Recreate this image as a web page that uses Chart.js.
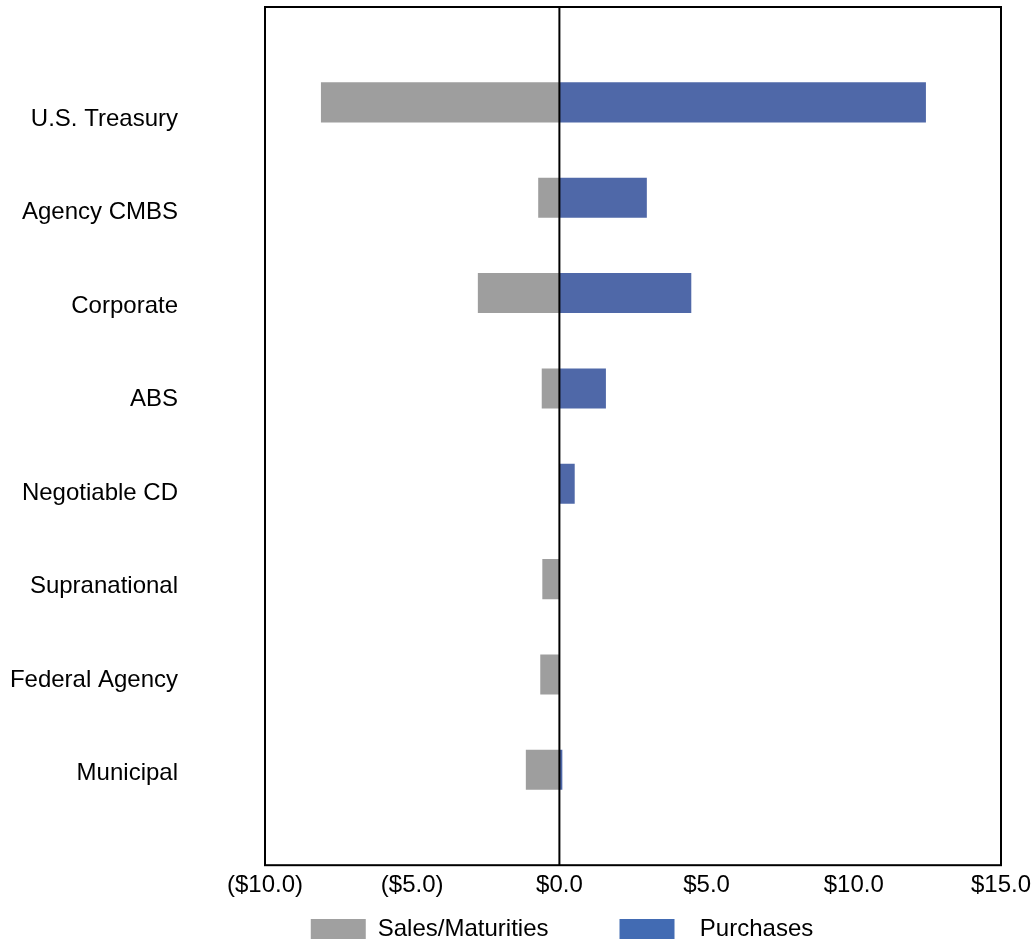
<!DOCTYPE html>
<html>
<head>
<meta charset="utf-8">
<title>Sales/Maturities vs Purchases by Sector</title>
<script src="https://cdn.jsdelivr.net/npm/chart.js@4.4.1/dist/chart.umd.min.js"></script>
<style>
    html, body { margin: 0; padding: 0; background: #fff; overflow: hidden; }
    #wrap { width: 1034px; height: 939px; }
</style>
</head>
<body>
<div id="wrap"><canvas id="sectorChart" width="1034" height="939" style="width:1034px;height:939px"></canvas></div>
<script>
const categories = ['U.S. Treasury', 'Agency CMBS', 'Corporate', 'ABS', 'Negotiable CD', 'Supranational', 'Federal Agency', 'Municipal'];
const salesMaturities = [-8.1, -0.72, -2.77, -0.6, 0, -0.58, -0.65, -1.14];
const purchases = [12.45, 2.97, 4.48, 1.58, 0.52, 0, 0, 0.1];
const xTickValues = [-10, -5, 0, 5, 10, 15];
const seriesNames = ['Sales/Maturities', 'Purchases'];

const barColors = ['#9e9e9e', '#4f68a8'];
const legendColors = ['#a0a0a0', '#426bb3'];
const FONT = "'Liberation Sans', Arial, sans-serif";
const FONT_SIZE = 24;

// empty slot above and below the sectors, like the original spacing
const padded = arr => [null, ...arr, null];

function money(v) {
    return v < 0 ? '($' + Math.abs(v).toFixed(1) + ')' : '$' + v.toFixed(1);
}

// box round the plot plus the zero line, drawn over the bars
const framePlugin = {
    id: 'frame',
    afterLayout(chart) {
        // the legend is centred under the bars rather than under the whole canvas
        chart.legend.left += 123;
    },
    afterDatasetsDraw(chart) {
        const {ctx, chartArea: a, scales: {x}} = chart;
        const zero = x.getPixelForValue(0);
        ctx.save();
        ctx.strokeStyle = '#000';
        ctx.lineWidth = 2;
        ctx.strokeRect(a.left, a.top, a.right - a.left, a.bottom - a.top);
        ctx.beginPath();
        ctx.moveTo(zero, a.top);
        ctx.lineTo(zero, a.bottom);
        ctx.stroke();
        ctx.restore();
    }
};

Chart.defaults.font.family = FONT;
Chart.defaults.color = '#000';

new Chart(document.getElementById('sectorChart'), {
    type: 'bar',
    data: {
        labels: padded(categories).map(c => c || ''),
        datasets: [
            {label: seriesNames[0], data: padded(salesMaturities), backgroundColor: barColors[0]},
            {label: seriesNames[1], data: padded(purchases), backgroundColor: barColors[1]}
        ]
    },
    options: {
        indexAxis: 'y',
        responsive: false,
        animation: false,
        categoryPercentage: 1,
        barPercentage: 0.42,
        layout: {padding: {top: 7, right: 33, bottom: -12, left: 0}},
        scales: {
            x: {
                stacked: true,
                min: -10,
                max: 15,
                grid: {display: false, drawTicks: false},
                border: {display: false},
                afterBuildTicks: axis => { axis.ticks = xTickValues.map(v => ({value: v})); },
                afterFit: axis => { axis.paddingLeft = 0; axis.paddingRight = 0; },
                ticks: {
                    padding: 6,
                    autoSkip: false,
                    maxRotation: 0,
                    font: {size: FONT_SIZE, lineHeight: 1.2},
                    callback: v => money(v)
                }
            },
            y: {
                stacked: true,
                display: false,
                offset: false
            },
            // sector names sit on their own axis: in the original they drift a little from the bar centres
            yl: {
                type: 'linear',
                position: 'left',
                reverse: true,
                offset: false,
                min: -0.2,
                max: 8.98,
                grid: {display: false, drawTicks: false},
                border: {display: false},
                afterBuildTicks: axis => { axis.ticks = categories.map((c, i) => ({value: i + 1})); },
                afterFit: axis => {
                    axis.width = 265;
                    axis.paddingTop = 0;
                    axis.paddingBottom = 0;
                },
                ticks: {
                    padding: 87,
                    autoSkip: false,
                    font: {size: FONT_SIZE},
                    callback: v => categories[v - 1]
                }
            }
        },
        plugins: {
            tooltip: {enabled: false},
            legend: {
                position: 'bottom',
                labels: {
                    boxWidth: 55,
                    boxHeight: 20,
                    padding: 11,
                    font: {size: FONT_SIZE},
                    color: '#000',
                    generateLabels: chart => chart.data.datasets.map((ds, i) => ({
                        // spaces keep the gap between the two entries as in the original
                        text: i === 0 ? ds.label + ' '.repeat(9) : '  ' + ds.label,
                        fillStyle: legendColors[i],
                        strokeStyle: legendColors[i],
                        lineWidth: 0,
                        hidden: false,
                        datasetIndex: i
                    }))
                }
            }
        }
    },
    plugins: [framePlugin]
});
</script>
</body>
</html>
